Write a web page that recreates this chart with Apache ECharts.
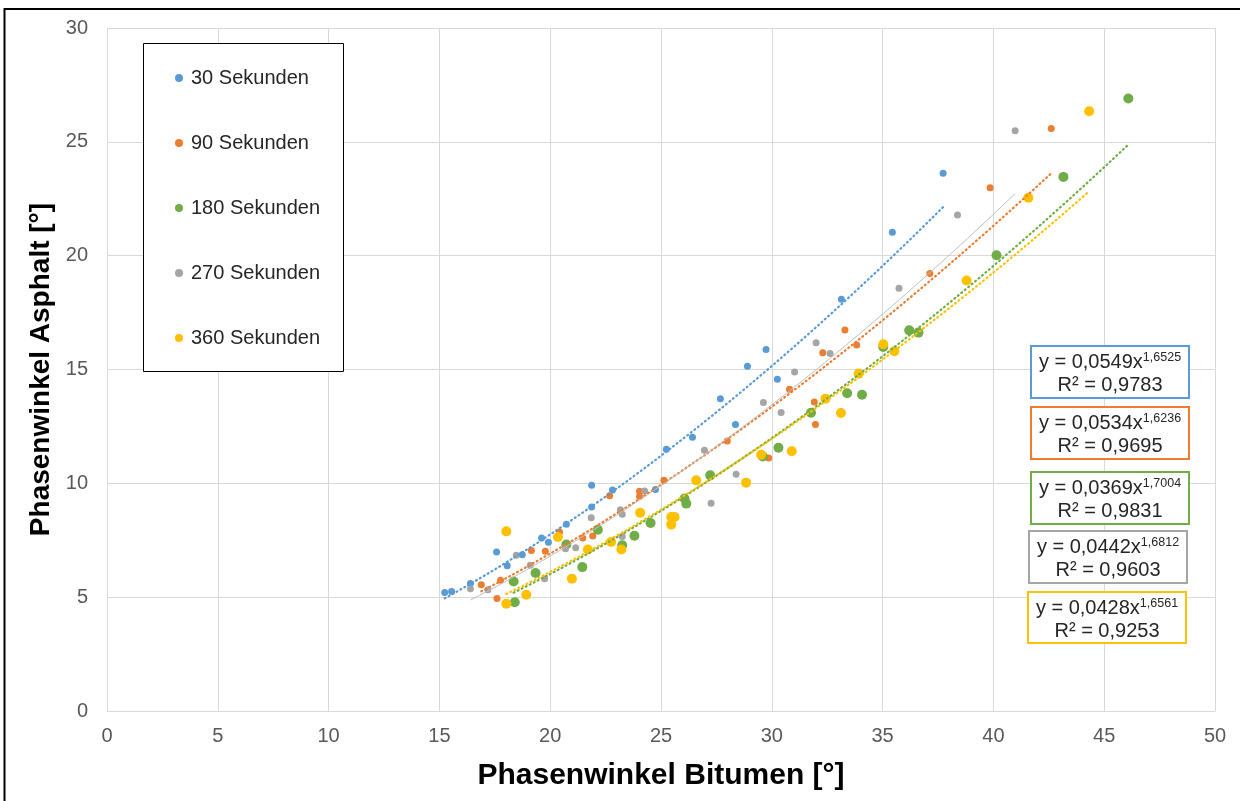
<!DOCTYPE html>
<html>
<head>
<meta charset="utf-8">
<script src="https://cdn.jsdelivr.net/npm/echarts@6/dist/echarts.min.js"></script>
<style>html,body{margin:0;padding:0;background:#fff}#c{width:1240px;height:801px}</style>
</head>
<body>
<div id="c"></div>
<script>
// ---- data ----
const seriesNames = ['30 Sekunden', '90 Sekunden', '180 Sekunden', '270 Sekunden', '360 Sekunden'];

const s30x = [15.24, 15.55, 16.40, 17.58, 18.06, 18.74, 19.61, 19.92, 20.73, 21.87, 21.87, 22.81, 24.75, 25.24, 26.42, 27.68, 28.36, 28.90, 29.74, 30.25, 33.14, 35.44, 37.73];
const s30y = [5.21, 5.25, 5.60, 6.98, 6.38, 6.86, 7.60, 7.41, 8.20, 9.92, 8.96, 9.71, 9.73, 11.50, 12.02, 13.71, 12.58, 15.14, 15.88, 14.57, 18.09, 21.03, 23.62];

const s90x = [16.89, 17.60, 17.76, 19.15, 19.78, 20.42, 21.47, 21.92, 22.68, 24.03, 24.03, 25.13, 27.99, 29.86, 30.80, 31.92, 31.97, 32.30, 33.30, 33.83, 37.13, 39.85, 42.61];
const s90y = [5.55, 4.94, 5.74, 7.05, 7.02, 7.86, 7.60, 7.69, 9.46, 9.65, 9.43, 10.13, 11.86, 11.11, 14.13, 13.57, 12.58, 15.74, 16.73, 16.08, 19.22, 22.98, 25.59];

const s180x = [18.35, 18.40, 19.34, 20.73, 21.45, 22.15, 23.25, 23.80, 24.53, 26.06, 26.14, 27.22, 29.59, 30.30, 31.77, 33.40, 34.07, 35.03, 36.20, 36.62, 40.14, 43.16, 46.09];
const s180y = [5.69, 4.78, 6.06, 7.31, 6.32, 7.96, 7.28, 7.70, 8.26, 9.33, 9.11, 10.35, 11.18, 11.56, 13.10, 13.96, 13.89, 15.99, 16.72, 16.62, 20.02, 23.46, 26.90];

const s270x = [16.40, 17.19, 18.47, 19.10, 19.75, 20.69, 21.15, 21.85, 23.17, 23.25, 23.25, 24.26, 26.96, 27.26, 28.39, 29.62, 30.42, 31.03, 32.00, 32.63, 35.74, 38.38, 40.98];
const s270y = [5.37, 5.33, 6.84, 6.40, 5.81, 7.13, 7.17, 8.49, 8.84, 8.64, 7.67, 9.66, 11.45, 9.13, 10.40, 13.55, 13.11, 14.89, 16.18, 15.70, 18.57, 21.79, 25.49];

const s360x = [18.02, 18.02, 18.92, 20.35, 20.98, 21.70, 22.75, 23.21, 24.06, 25.46, 25.61, 25.46, 26.59, 28.84, 29.52, 30.90, 32.42, 33.12, 33.92, 35.03, 35.53, 38.79, 41.58, 44.32];
const s360y = [7.89, 4.71, 5.11, 7.64, 5.81, 7.09, 7.42, 7.09, 8.71, 8.52, 8.52, 8.18, 10.13, 10.03, 11.26, 11.41, 13.72, 13.09, 14.82, 16.11, 15.80, 18.91, 22.54, 26.34];

// power trendlines y = a * x^b (from the chart's equations)
const trendA = [0.0549, 0.0534, 0.0369, 0.0442, 0.0428];
const trendB = [1.6525, 1.6236, 1.7004, 1.6812, 1.6561];
const eqCoef = ['0,0549', '0,0534', '0,0369', '0,0442', '0,0428'];
const eqExp = ['1,6525', '1,6236', '1,7004', '1,6812', '1,6561'];
const eqR2 = ['0,9783', '0,9695', '0,9831', '0,9603', '0,9253'];

const xTicks = [0, 5, 10, 15, 20, 25, 30, 35, 40, 45, 50];
const yTicks = [0, 5, 10, 15, 20, 25, 30];

// ---- build ----
const colors = ['#5B9BD5', '#ED7D31', '#70AD47', '#A5A5A5', '#FFC000'];
const symSizes = [7, 7, 10, 7, 10];
const xs = [s30x, s90x, s180x, s270x, s360x];
const ys = [s30y, s90y, s180y, s270y, s360y];
const FONT = 'Liberation Sans, Arial, sans-serif';

const series = [];
seriesNames.forEach((n, i) => {
  series.push({
    name: n, type: 'scatter', symbol: 'circle', symbolSize: symSizes[i],
    itemStyle: { color: colors[i], opacity: 1 },
    data: xs[i].map((x, k) => [x, ys[i][k]]),
    z: 3
  });
});
seriesNames.forEach((n, i) => {
  const xmin = Math.min(...xs[i]), xmax = Math.max(...xs[i]);
  const pts = [];
  const N = 80;
  for (let k = 0; k <= N; k++) {
    const x = xmin + (xmax - xmin) * k / N;
    pts.push([x, trendA[i] * Math.pow(x, trendB[i])]);
  }
  const isGray = i === 3;
  series.push({
    name: n + ' trend', type: 'line', data: pts, showSymbol: false, silent: true,
    lineStyle: isGray ? { color: '#BFBFBF', width: 1, type: 'solid' }
                      : { color: colors[i], width: 2.2, type: [1, 3.5], cap: 'round' },
    z: 4
  });
});

// equation boxes
const boxes = [
  { x: 1031, y: 346, w: 158, h: 52 },
  { x: 1031, y: 407, w: 158, h: 52 },
  { x: 1031, y: 472, w: 158, h: 52 },
  { x: 1029, y: 531, w: 158, h: 52 },
  { x: 1028, y: 592, w: 158, h: 51 }
];
const graphics = [
  { type: 'rect', shape: { x: 4.5, y: 9, width: 1240, height: 800 }, style: { fill: 'none', stroke: '#000', lineWidth: 2 }, z: 0 },
  { type: 'rect', shape: { x: 143.5, y: 43.5, width: 200, height: 328 }, style: { fill: '#fff', stroke: '#000', lineWidth: 1 }, z: 10 }
];
boxes.forEach((b, i) => {
  const cx = b.x + b.w / 2;
  graphics.push({ type: 'rect', shape: { x: b.x, y: b.y, width: b.w, height: b.h }, style: { fill: '#fff', stroke: colors[i], lineWidth: 2 }, z: 10 });
  graphics.push({
    type: 'text', z: 11,
    style: {
      x: cx, y: b.y + 16, align: 'center', verticalAlign: 'middle',
      text: '{m|y = ' + eqCoef[i] + 'x}{s|' + eqExp[i] + '}',
      rich: {
        m: { fontSize: 20, fontFamily: FONT, fill: '#262626', lineHeight: 22 },
        s: { fontSize: 12.5, fontFamily: FONT, fill: '#262626', lineHeight: 12, verticalAlign: 'top' }
      }
    }
  });
  graphics.push({
    type: 'text', z: 11,
    style: { x: cx, y: b.y + 39, align: 'center', verticalAlign: 'middle', text: 'R² = ' + eqR2[i], fontSize: 20, fontFamily: FONT, fill: '#262626' }
  });
});

const chart = echarts.init(document.getElementById('c'), null, { renderer: 'canvas' });
chart.setOption({
  animation: false,
  backgroundColor: '#fff',
  textStyle: { fontFamily: FONT },
  grid: { left: 107, right: 25, top: 28, bottom: 90, containLabel: false },
  xAxis: {
    type: 'value', min: 0, max: 50, interval: 5,
    axisLine: { show: true, lineStyle: { color: '#D9D9D9', width: 1 } },
    axisTick: { show: false },
    splitLine: { show: true, lineStyle: { color: '#D9D9D9', width: 1 } },
    axisLabel: { color: '#595959', fontSize: 20, margin: 15, formatter: v => xTicks.includes(v) ? String(v) : '' },
    name: 'Phasenwinkel Bitumen [°]', nameLocation: 'middle', nameGap: 50,
    nameTextStyle: { color: '#000', fontSize: 30, fontWeight: 'bold', fontFamily: FONT }
  },
  yAxis: {
    type: 'value', min: 0, max: 30, interval: 5,
    axisLine: { show: true, lineStyle: { color: '#D9D9D9', width: 1 } },
    axisTick: { show: false },
    splitLine: { show: true, lineStyle: { color: '#D9D9D9', width: 1 } },
    axisLabel: { color: '#595959', fontSize: 20, margin: 19, formatter: v => yTicks.includes(v) ? String(v) : '' },
    name: 'Phasenwinkel Asphalt [°]', nameLocation: 'middle', nameGap: 52,
    nameTextStyle: { color: '#000', fontSize: 28, fontWeight: 'bold', fontFamily: FONT }
  },
  legend: {
    data: seriesNames, orient: 'vertical', left: 170, top: 63,
    itemWidth: 14, itemHeight: 8, itemGap: 45, icon: 'circle',
    textStyle: { color: '#262626', fontSize: 20, lineHeight: 20, fontFamily: FONT },
    z: 12
  },
  graphic: graphics,
  series: series
});
</script>
</body>
</html>
